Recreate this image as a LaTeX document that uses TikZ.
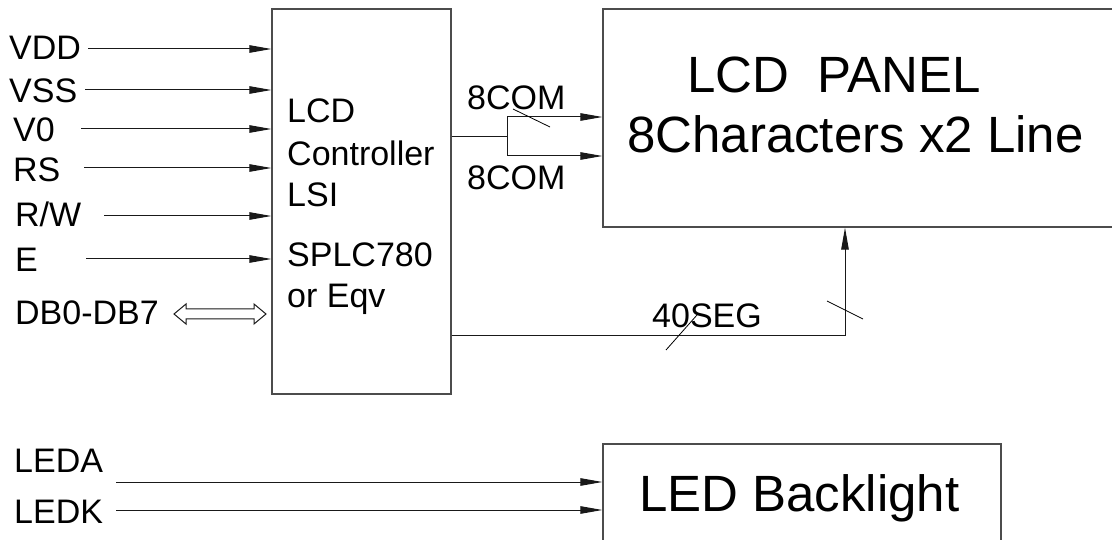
\documentclass[tikz,border=0pt]{standalone}
\usepackage{fontspec}
\setmainfont{Liberation Sans}
\usetikzlibrary{arrows.meta, fit}

\tikzset{
    blk/.style={draw=black!70, line width=1.3pt, inner sep=0pt},
    sig/.style={draw=black!90, line width=1pt},
    pin/.style={sig, -{Triangle[length=22pt, width=7.5pt]}},
    tick/.style={draw=black, line width=0.8pt},
    lbl/.style={anchor=base west, inner sep=0pt, font=\fontsize{34}{40}\selectfont},
    big/.style={anchor=base west, inner sep=0pt, font=\fontsize{51}{60}\selectfont},
}

\begin{document}
\begin{tikzpicture}[x=1pt, y=-1pt]
    \useasboundingbox (0,0) rectangle (1112,540);

    % Blocos
    \node[blk, fit={(272,9) (451,394)}] (ctrl) {};
    \node[blk, fit={(603,9) (1140,227)}] (panel) {};
    \node[blk, fit={(603,444) (1001,580)}] (backlight) {};

    % Texto do controlador
    \node[lbl] (lcdtxt) at (287,123) {LCD};
    \node[lbl] (ctltxt) at (287,166) {Controller};
    \node[lbl] (lsitxt) at (287,207) {LSI};
    \node[lbl] (chiptxt) at (287,267) {SPLC780};
    \node[lbl] (eqvtxt) at (287,308) {or Eqv};

    % Texto do painel e da luz de fundo
    \node[big] (paneltxt) at (687,93) {LCD\ \ PANEL};
    \node[big] (chartxt) at (627,153) {8Characters x2 Line};
    \node[big] (ledtxt) at (639,511) {LED Backlight};

    % Sinais de entrada
    \node[lbl] (vdd) at (9,60) {VDD};
    \node[lbl] (vss) at (9,103) {VSS};
    \node[lbl] (vo) at (13,142) {V0};
    \node[lbl] (rs) at (13,182) {RS};
    \node[lbl] (rw) at (15,227) {R/W};
    \node[lbl] (en) at (15,272) {E};
    \node[lbl] (db) at (15,324) {DB0-DB7};

    \coordinate (vddin) at (88,49);
    \coordinate (vssin) at (85,90);
    \coordinate (voin) at (81,129);
    \coordinate (rsin) at (84,168);
    \coordinate (rwin) at (104,216);
    \coordinate (enin) at (86,259);
    \coordinate (dbin) at (174,314);

    \draw[pin] (vddin) -- (vddin -| ctrl.west);
    \draw[pin] (vssin) -- (vssin -| ctrl.west);
    \draw[pin] (voin) -- (voin -| ctrl.west);
    \draw[pin] (rsin) -- (rsin -| ctrl.west);
    \draw[pin] (rwin) -- (rwin -| ctrl.west);
    \draw[pin] (enin) -- (enin -| ctrl.west);

    % Barramento de dados (seta dupla vazada)
    \draw[sig] (dbin) -- ++(12,-10) -- ++(0,5) -- ++(68,0) -- ++(0,-5) -- ++(12,10)
        -- ++(-12,10) -- ++(0,-5) -- ++(-68,0) -- ++(0,5) -- cycle;

    % COM
    \coordinate (comsplit) at (507,137);
    \coordinate (comtop) at (507,117);
    \coordinate (combot) at (507,156);
    \draw[sig] (ctrl.east |- comsplit) -- (comsplit);
    \draw[sig] (comtop) -- (combot);
    \draw[pin] (comtop) -- (comtop -| panel.west);
    \draw[pin] (combot) -- (combot -| panel.west);
    \draw[tick] (513,109) -- (550,127);
    \node[lbl] (com1) at (467,110) {8COM};
    \node[lbl] (com2) at (467,190) {8COM};

    % SEG
    \coordinate (segcorner) at (845,336);
    \draw[pin] (ctrl.east |- segcorner) -- (segcorner) -- (segcorner |- panel.south);
    \draw[tick] (666,350) -- (697,315);
    \draw[tick] (827,301) -- (863,319);
    \node[lbl] (seg) at (652,327) {40SEG};

    % Luz de fundo
    \node[lbl] (leda) at (14,472) {LEDA};
    \node[lbl] (ledk) at (14,523) {LEDK};
    \coordinate (ledain) at (116,482);
    \coordinate (ledkin) at (116,510);
    \draw[pin] (ledain) -- (ledain -| backlight.west);
    \draw[pin] (ledkin) -- (ledkin -| backlight.west);

\end{tikzpicture}
\end{document}
